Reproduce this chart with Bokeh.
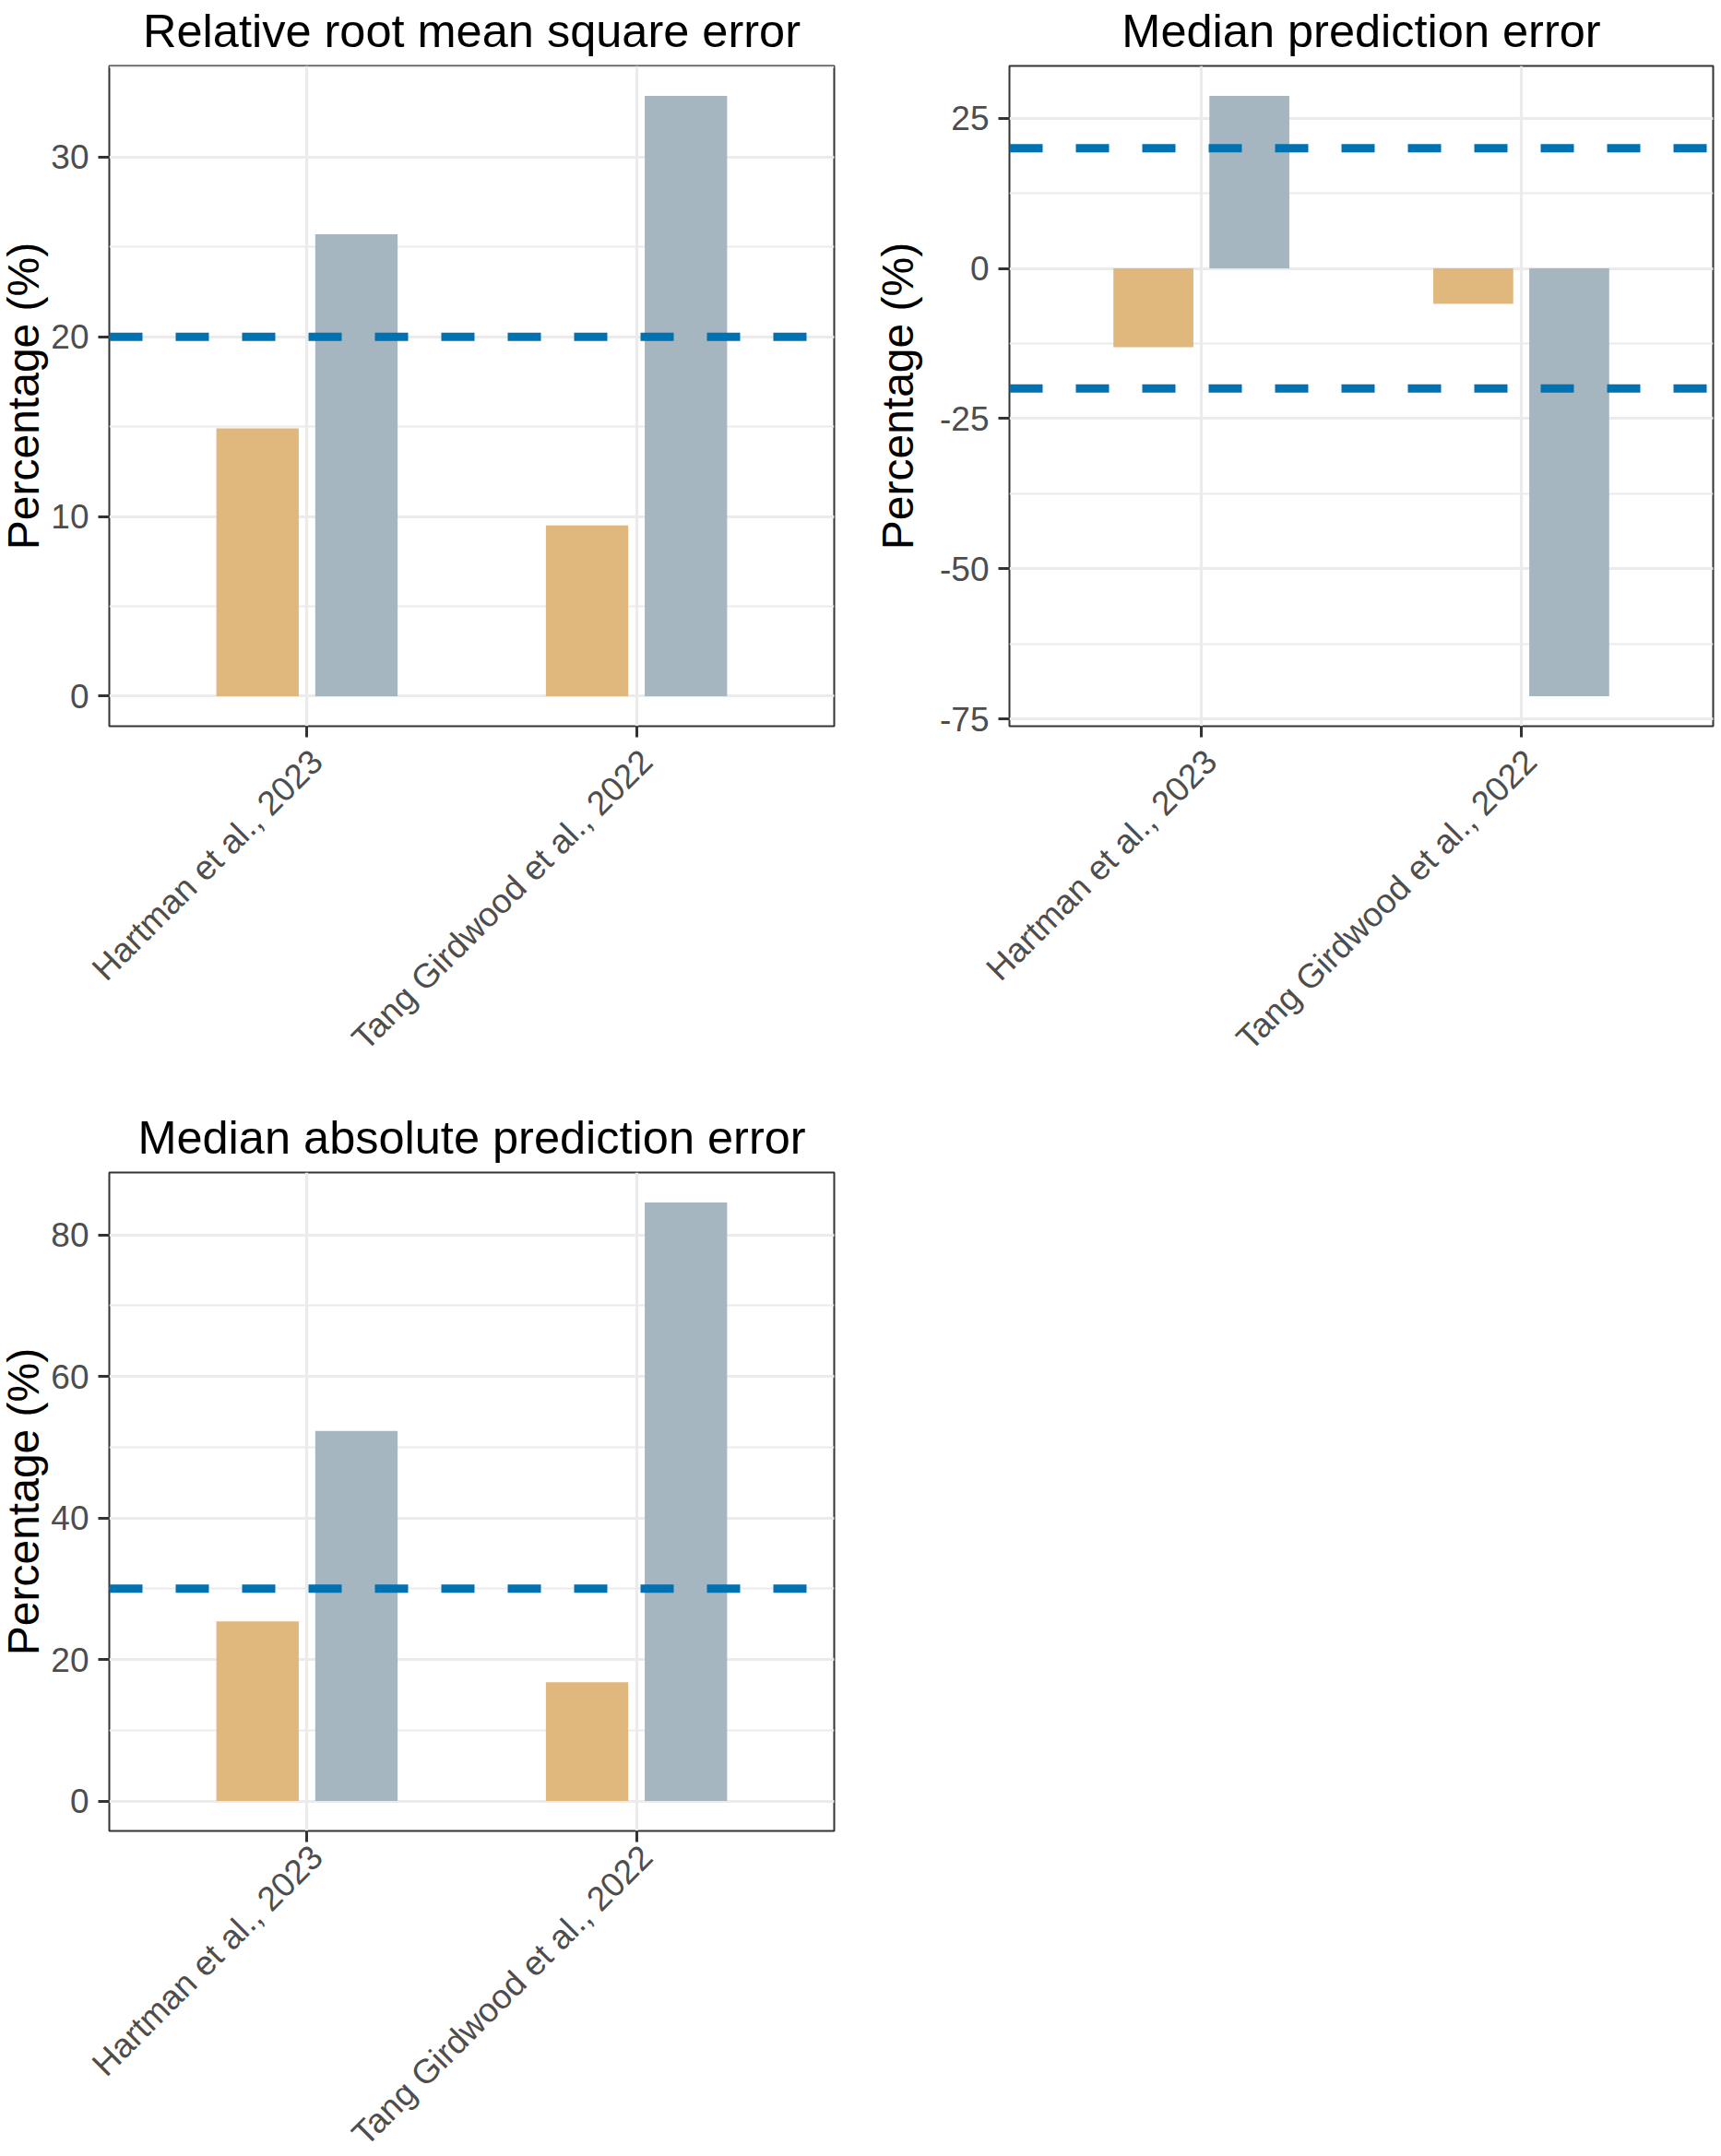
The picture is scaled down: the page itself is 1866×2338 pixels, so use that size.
import math
from bokeh.plotting import figure
from bokeh.models import (Span, FixedTicker, SingleIntervalTicker, Range1d,
                          ColumnDataSource, LinearAxis, PrintfTickFormatter)
from bokeh.layouts import column, row
from bokeh.embed import file_html
from bokeh.resources import INLINE

# ---------------- data ----------------
studies = ["Hartman et al., 2023", "Tang Girdwood et al., 2022"]
series_colors = ["#E0B87E", "#A6B6C0"]

rrmse_g1 = [14.9, 9.5]
rrmse_g2 = [25.7, 33.4]
mpe_g1 = [-13.1, -5.9]
mpe_g2 = [28.7, -71.2]
mape_g1 = [25.4, 16.8]
mape_g2 = [52.3, 84.6]

rrmse_thresholds = [20]
mpe_thresholds = [20, -20]
mape_thresholds = [30]

titles = ["Relative root mean square error", "Median prediction error",
          "Median absolute prediction error"]
y_label = "Percentage (%)"

FONT = "Liberation Sans"
TICK_FONT = "37px"


def make_panel(title, g1, g2, thresholds, tick_interval, frame_w, frame_h,
               b_left, b_right, b_top, b_bottom, ylab_standoff, xlab_standoff):
    vals = [0] + g1 + g2
    lo, hi = min(vals), max(vals)
    pad = 0.05 * (hi - lo)
    p = figure(frame_width=frame_w, frame_height=frame_h,
               x_range=Range1d(0.4, len(studies) + 0.6),
               y_range=Range1d(lo - pad, hi + pad),
               output_backend="svg", toolbar_location=None,
               min_border_left=b_left, min_border_right=b_right,
               min_border_top=b_top, min_border_bottom=b_bottom,
               background_fill_color="white", border_fill_color="white")
    xs = list(range(1, len(studies) + 1))
    dodge = 0.15
    for vals_, color, off in zip([g1, g2], series_colors, [-dodge, dodge]):
        src = ColumnDataSource(dict(x=[x + off for x in xs], top=vals_))
        p.vbar(x="x", top="top", bottom=0, width=0.25, source=src,
               fill_color=color, line_color=None)
    for t in thresholds:
        p.add_layout(Span(location=t, dimension="width", line_color="#0072B2",
                          line_width=9, line_dash="36 36"))

    p.outline_line_color = "#333333"
    p.outline_line_width = 2

    # title
    p.title.text = title
    p.title.align = "center"
    p.title.text_font = FONT
    p.title.text_font_size = "50.5px"
    p.title.text_font_style = "normal"
    p.title.text_color = "black"
    p.title.standoff = 20

    # x axis: ticks only
    xax = p.xaxis[0]
    xax.ticker = FixedTicker(ticks=xs, minor_ticks=[])
    xax.major_label_overrides = {x: "" for x in xs}
    xax.major_label_text_font_size = "1px"
    xax.major_label_standoff = 0
    xax.axis_line_color = None
    xax.major_tick_line_color = "#333333"
    xax.major_tick_line_width = 3
    xax.major_tick_out = 12
    xax.major_tick_in = 0
    xax.minor_tick_line_color = None

    # x axis: rotated study labels (slightly offset like ggplot's hjust=1)
    lab_shift = 0.03
    lab_ax = LinearAxis(ticker=FixedTicker(ticks=[x + lab_shift for x in xs], minor_ticks=[]),
                        major_label_overrides={x + lab_shift: s for x, s in zip(xs, studies)},
                        major_label_orientation=math.pi / 4,
                        major_label_text_font=FONT,
                        major_label_text_font_size=TICK_FONT,
                        major_label_text_color="#4D4D4D",
                        major_label_standoff=xlab_standoff,
                        major_tick_line_color=None, major_tick_out=0, major_tick_in=0,
                        minor_tick_line_color=None, axis_line_color=None)
    p.add_layout(lab_ax, "below")

    # y axis
    yax = p.yaxis[0]
    yax.ticker = SingleIntervalTicker(interval=tick_interval, num_minor_ticks=2)
    yax.formatter = PrintfTickFormatter(format="%d")
    yax.axis_label = y_label
    yax.axis_label_text_font = FONT
    yax.axis_label_text_font_size = "48px"
    yax.axis_label_text_font_style = "normal"
    yax.axis_label_text_color = "black"
    yax.axis_label_standoff = ylab_standoff
    yax.axis_line_color = None
    yax.major_tick_line_color = "#333333"
    yax.major_tick_line_width = 3
    yax.major_tick_out = 12
    yax.major_tick_in = 0
    yax.minor_tick_line_color = None
    yax.major_label_text_font = FONT
    yax.major_label_text_font_size = TICK_FONT
    yax.major_label_text_color = "#4D4D4D"
    yax.major_label_standoff = 10

    p.xgrid.grid_line_color = "#EBEBEB"
    p.xgrid.grid_line_width = 3.2
    p.ygrid.grid_line_color = "#EBEBEB"
    p.ygrid.grid_line_width = 3.2
    p.ygrid.minor_grid_line_color = "#EBEBEB"
    p.ygrid.minor_grid_line_width = 1.8
    return p


p1 = make_panel(titles[0], rrmse_g1, rrmse_g2, rrmse_thresholds, 10,
                786, 716, 121, 39, 72, 405, 0, 20)
p2 = make_panel(titles[1], mpe_g1, mpe_g2, mpe_thresholds, 25,
                763, 716, 151, 4, 72, 405, 16, 20)
p3 = make_panel(titles[2], mape_g1, mape_g2, mape_thresholds, 20,
                786, 714, 121, 39, 72, 359, 0, 10)

layout = column(row(p1, p2), p3, margin=(-8, 0, -8, -4))
open("out.html", "w").write(file_html(layout, INLINE))
